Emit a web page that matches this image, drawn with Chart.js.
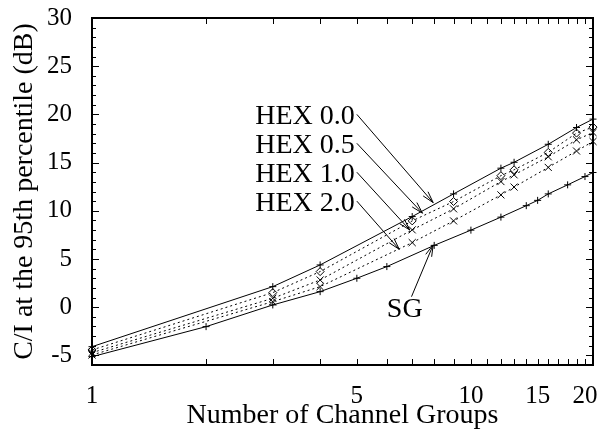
<!DOCTYPE html>
<html>
<head>
<meta charset="utf-8">
<script src="https://cdn.jsdelivr.net/npm/chart.js@4/dist/chart.umd.min.js"></script>
<style>
  html, body { margin: 0; padding: 0; background: #fff; }
  canvas { display: block; }
</style>
</head>
<body>
<canvas id="c" width="602" height="440"></canvas>
<script>
// Number of channel groups (cluster sizes) for the hexagonal layouts
const hexGroups = [1, 3, 4, 7, 9, 12, 13, 16, 19, 21];
// C/I at the 95th percentile (dB) for each HEX variant
const hex00 = [-4.10, 2.13, 4.38, 9.40, 11.75, 14.42, 15.03, 16.90, 18.64, 19.51];
const hex05 = [-4.44, 1.51, 3.69, 8.95, 10.96, 13.64, 14.25, 16.06, 18.06, 18.68];
const hex10 = [-4.72, 0.92, 2.82, 8.02, 10.20, 13.03, 13.73, 15.60, 17.36, 18.12];
const hex20 = [-4.96, 0.57, 2.13, 6.70, 8.95, 11.65, 12.46, 14.50, 16.20, 17.19];

// Square-grid layout
const sgGroups = [1, 2, 3, 4, 5, 6, 8, 10, 12, 14, 15, 16, 18, 20, 21];
const sgCI = [-5.14, -2.02, 0.23, 1.61, 3.00, 4.21, 6.41, 7.99, 9.34, 10.53, 11.08, 11.75, 12.69, 13.55, 13.97];

const seriesNames = ['HEX 0.0', 'HEX 0.5', 'HEX 1.0', 'HEX 2.0', 'SG'];

// Axis tick labels
const xTickValues = [1, 5, 10, 15, 20];
const yTickValues = [-5, 0, 5, 10, 15, 20, 25, 30];

// Callouts: text position and arrow ends, in data units
const callouts = [
  { text: 'HEX 0.0', textAt: [5, 20], align: 'right', from: [5, 20], to: [7.95, 10.85] },
  { text: 'HEX 0.5', textAt: [5, 17], align: 'right', from: [5, 17], to: [7.45, 9.75] },
  { text: 'HEX 1.0', textAt: [5, 14], align: 'right', from: [5, 14], to: [6.9, 8.0] },
  { text: 'HEX 2.0', textAt: [5, 11], align: 'right', from: [5, 11], to: [6.47, 6.0] },
  { text: 'SG', textAt: [6, 0], align: 'left', from: [6.97, 1.09], to: [7.95, 6.46] }
];

const SERIF = "'Liberation Serif', 'Times New Roman', Times, serif";
Chart.defaults.font.family = SERIF;
Chart.defaults.color = '#000';

const pairs = (xs, ys) => xs.map((g, i) => ({ x: g, y: ys[i] }));

function series(label, xs, ys, pointStyle, radius, dash) {
  return {
    label,
    data: pairs(xs, ys),
    borderColor: '#000',
    backgroundColor: 'rgba(0,0,0,0)',
    borderWidth: 1,
    borderDash: dash,
    pointStyle,
    pointRadius: radius,
    pointBorderColor: '#000',
    pointBackgroundColor: 'rgba(0,0,0,0)',
    pointBorderWidth: 1,
    tension: 0,
    clip: false
  };
}

const dotted = [2, 3];

// Axes keep a fixed footprint; no extra room is reserved for edge labels
const noEdgePadding = s => {
  s.paddingTop = 0; s.paddingBottom = 0; s.paddingLeft = 0; s.paddingRight = 0;
};

const framePlugin = {
  id: 'frameAndCallouts',
  afterDatasetsDraw(chart) {
    const { ctx, chartArea: a, scales: { x, y } } = chart;
    ctx.save();
    ctx.strokeStyle = '#000';
    ctx.fillStyle = '#000';
    ctx.lineWidth = 1;

    // inward ticks on all four sides
    ctx.beginPath();
    for (let g = 1; g <= 21; g++) {
      const px = Math.round(x.getPixelForValue(g)) + 0.5;
      ctx.moveTo(px, a.bottom); ctx.lineTo(px, a.bottom - 6);
      ctx.moveTo(px, a.top); ctx.lineTo(px, a.top + 6);
    }
    for (let v = -6; v <= 30; v++) {
      const len = v % 5 === 0 ? 7 : 4;
      const py = Math.round(y.getPixelForValue(v)) + 0.5;
      ctx.moveTo(a.left, py); ctx.lineTo(a.left + len, py);
      ctx.moveTo(a.right, py); ctx.lineTo(a.right - len, py);
    }
    ctx.stroke();

    // frame
    ctx.lineWidth = 2;
    ctx.strokeRect(a.left, a.top, a.right - a.left, a.bottom - a.top);

    // callout labels with open arrowheads
    ctx.lineWidth = 1;
    ctx.font = '28px ' + SERIF;
    ctx.textBaseline = 'alphabetic';
    for (const c of callouts) {
      const tx = x.getPixelForValue(c.textAt[0]);
      const ty = y.getPixelForValue(c.textAt[1]);
      ctx.textAlign = c.align;
      ctx.fillText(c.text, c.align === 'right' ? tx - 2 : tx, ty + 9.5);

      const x0 = x.getPixelForValue(c.from[0]), y0 = y.getPixelForValue(c.from[1]);
      const x1 = x.getPixelForValue(c.to[0]), y1 = y.getPixelForValue(c.to[1]);
      const ang = Math.atan2(y1 - y0, x1 - x0);
      const L = 12, spread = 0.27;
      ctx.beginPath();
      ctx.moveTo(x0, y0); ctx.lineTo(x1, y1);
      ctx.moveTo(x1 - L * Math.cos(ang - spread), y1 - L * Math.sin(ang - spread));
      ctx.lineTo(x1, y1);
      ctx.lineTo(x1 - L * Math.cos(ang + spread), y1 - L * Math.sin(ang + spread));
      ctx.stroke();
    }
    ctx.restore();
  }
};

new Chart(document.getElementById('c'), {
  type: 'line',
  data: {
    datasets: [
      series(seriesNames[0], hexGroups, hex00, 'cross', 3.5, []),
      series(seriesNames[1], hexGroups, hex05, 'rectRot', 4, dotted),
      series(seriesNames[2], hexGroups, hex10, 'crossRot', 5, dotted),
      series(seriesNames[3], hexGroups, hex20, 'crossRot', 5, dotted),
      series(seriesNames[4], sgGroups, sgCI, 'cross', 3.5, [])
    ]
  },
  options: {
    responsive: false,
    animation: false,
    devicePixelRatio: 1,
    layout: { padding: { left: 0, top: 18, right: 9, bottom: 0 } },
    plugins: { legend: { display: false }, tooltip: { enabled: false } },
    elements: { line: { borderCapStyle: 'butt' } },
    scales: {
      x: {
        type: 'logarithmic',
        position: 'bottom',
        min: 1,
        max: 21,
        afterBuildTicks: s => { s.ticks = xTickValues.map(v => ({ value: v })); },
        afterFit: s => { s.height = 75; noEdgePadding(s); },
        grid: { display: false, drawTicks: false },
        border: { display: false },
        ticks: {
          autoSkip: false,
          maxRotation: 0,
          padding: 16,
          font: { size: 25 },
          color: '#000',
          callback: v => String(v)
        },
        title: {
          display: true,
          text: 'Number of Channel Groups',
          font: { size: 28 },
          color: '#000',
          padding: { top: 0, bottom: 8 }
        }
      },
      y: {
        type: 'linear',
        min: -6,
        max: 30,
        afterBuildTicks: s => { s.ticks = yTickValues.map(v => ({ value: v })); },
        afterFit: s => { s.width = 92; noEdgePadding(s); },
        grid: { display: false, drawTicks: false },
        border: { display: false },
        ticks: {
          padding: 20,
          font: { size: 25 },
          color: '#000',
          callback: v => String(v)
        },
        title: {
          display: true,
          text: 'C/I at the 95th percentile (dB)',
          font: { size: 28 },
          color: '#000',
          padding: { top: 8, bottom: 0 }
        }
      }
    }
  },
  plugins: [framePlugin]
});
</script>
</body>
</html>
